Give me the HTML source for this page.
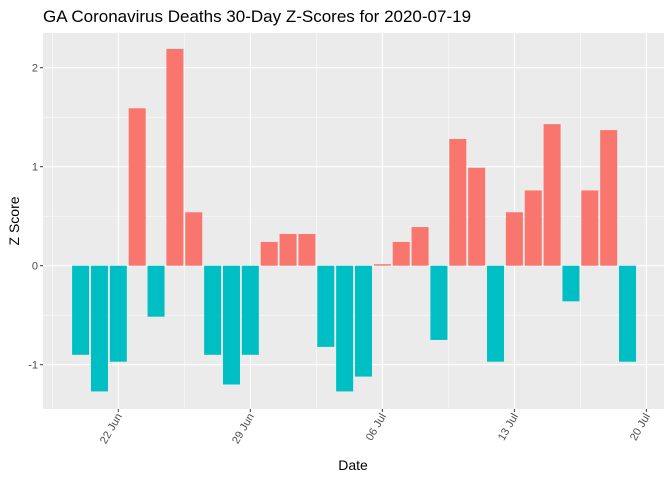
<!DOCTYPE html>
<html><head><meta charset="utf-8"><style>
body{margin:0;background:#fff;font-family:"Liberation Sans",Arial,sans-serif}
</style></head><body>
<svg id="c" width="672" height="480" xmlns="http://www.w3.org/2000/svg">
<text x="43" y="22" font-size="17" fill="#000">GA Coronavirus Deaths 30-Day Z-Scores for 2020-07-19</text>
<rect x="43" y="33" width="621" height="376" fill="#EBEBEB"/>
<g id="grid"></g><g id="bars"></g><g id="axes"></g>
<text x="353" y="470" font-size="14" text-anchor="middle">Date</text>
<text transform="translate(19,221) rotate(-90)" font-size="14" text-anchor="middle">Z Score</text>
</svg>
<script>
const startDate = "2020-06-20";
const values = [-0.9,-1.27,-0.97,1.59,-0.515,2.19,0.54,-0.9,-1.2,-0.9,0.24,0.32,0.32,-0.82,-1.27,-1.12,0.015,0.24,0.39,-0.75,1.28,0.99,-0.97,0.54,0.76,1.43,-0.36,0.76,1.37,-0.97];
const yTicks = [-1,0,1,2];
const xTickLabels = ["22 Jun","29 Jun","06 Jul","13 Jul","20 Jul"];
const xTickDays = [2,9,16,23,30];
const NS="http://www.w3.org/2000/svg";
const x0=80.6, dayW=18.86, L=43, R=664, T=33, B=409;
function xs(d){return x0+d*dayW;}
function ys(v){return 265.7-v*99;}
function mk(t,a,p){const e=document.createElementNS(NS,t);for(const k in a)e.setAttribute(k,a[k]);p.appendChild(e);return e;}
const grid=document.getElementById('grid'), bars=document.getElementById('bars'), axes=document.getElementById('axes');
for(let v=-1.5;v<=2.5;v+=0.5){const y=ys(v);if(y<T||y>B)continue;const major=Number.isInteger(v);
 const l=mk('line',{x1:L,x2:R,y1:y,y2:y,stroke:'#fff','stroke-width':major?1.1:0.5},grid);
 }
for(let d=xTickDays[0]-3.5;d<=xTickDays[xTickDays.length-1]+1;d+=3.5){const x=xs(d);if(x<L||x>R)continue;const major=xTickDays.includes(d);
 const l=mk('line',{x1:x,x2:x,y1:T,y2:B,stroke:'#fff','stroke-width':major?1.1:0.5},grid);
 }
values.forEach((v,i)=>{const x=xs(i)-8.5;const y=Math.min(ys(v),ys(0));const h=Math.abs(ys(v)-ys(0));
 const r=mk('rect',{x:x,y:y,width:17,height:Math.max(h,0.8),fill:v>=0?'#F8766D':'#00BFC4'},bars);
 });
yTicks.forEach(v=>{const y=ys(v);
 const l=mk('line',{x1:L-3,x2:L,y1:y,y2:y,stroke:'#333'},axes);
 const t=mk('text',{x:L-5,y:y+4,'font-size':11,fill:'#4D4D4D','text-anchor':'end'},axes);t.textContent=v;
 });
xTickDays.forEach((d,i)=>{const x=xs(d);
 const l=mk('line',{x1:x,x2:x,y1:B,y2:B+3,stroke:'#333'},axes);
 const t=mk('text',{transform:`translate(${x+4},${B+7}) rotate(-60)`,'font-size':11,fill:'#4D4D4D','text-anchor':'end'},axes);t.textContent=xTickLabels[i];
 });
</script>
</body></html>
